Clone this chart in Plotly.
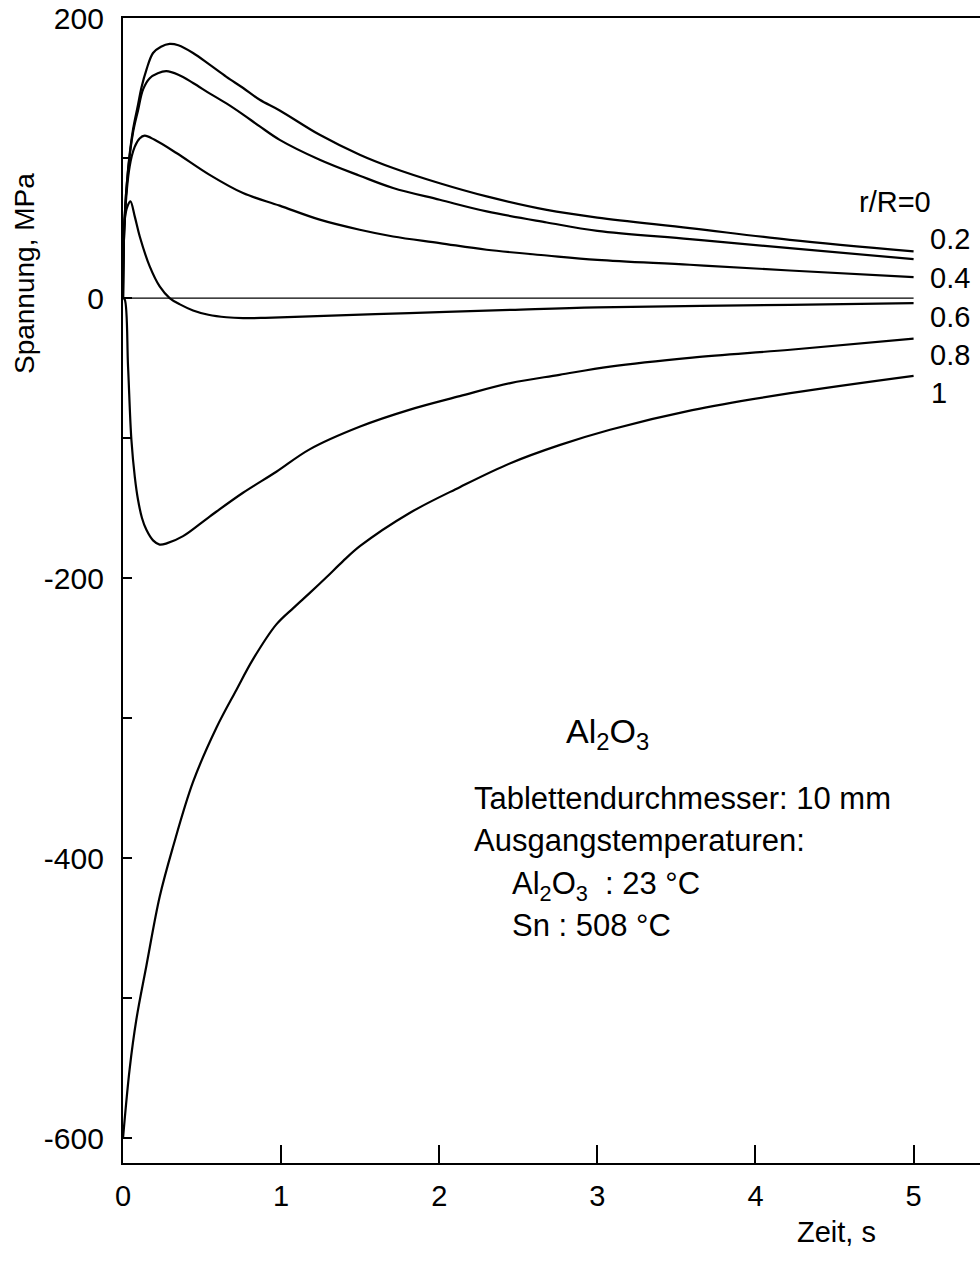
import plotly.graph_objects as go

# ---- data (time in s, stress in MPa) ----
t_r00 = [0, 0.01, 0.032, 0.063, 0.095, 0.116, 0.148, 0.19, 0.24, 0.295, 0.35, 0.443, 0.55, 0.654, 0.76, 0.865, 0.991, 1.244, 1.497, 1.708, 2.003, 2.3, 2.68, 3.0, 3.585, 4.217, 5.0]
s_r00 = [0, 56, 92, 120, 138, 150, 163, 175, 179.5, 181.5, 180.5, 175, 166.5, 158, 150, 141.6, 134, 116.6, 102.4, 92.9, 82, 72.6, 63, 57.5, 50, 41.6, 33.3]

t_r02 = [0, 0.01, 0.032, 0.063, 0.095, 0.127, 0.169, 0.22, 0.274, 0.35, 0.443, 0.55, 0.654, 0.76, 0.865, 0.991, 1.244, 1.497, 1.708, 2.003, 2.3, 2.68, 3.0, 3.585, 4.217, 5.0]
s_r02 = [0, 56, 91, 118, 134, 149, 157, 160.5, 162, 159.5, 153.6, 146, 139, 131, 122.6, 113, 98.8, 87.4, 78.6, 70.2, 61.9, 54, 48, 42.1, 35.7, 27.8]

t_r04 = [0, 0.011, 0.042, 0.074, 0.105, 0.137, 0.2, 0.338, 0.548, 0.759, 0.991, 1.244, 1.497, 1.708, 2.003, 2.3, 2.68, 3.0, 3.585, 4.217, 5.0]
s_r04 = [0, 56, 94, 108, 114, 116, 113, 103.6, 88, 75, 66, 56, 48.8, 44, 39.3, 34.5, 30.4, 27.3, 23.8, 19.7, 15]

t_r06 = [0, 0.011, 0.03, 0.047, 0.075, 0.106, 0.169, 0.232, 0.295, 0.36, 0.443, 0.54, 0.654, 0.76, 0.9, 1.18, 1.81, 2.45, 3.0, 4.22, 5.0]
s_r06 = [0, 56, 66, 69, 58, 44, 22.6, 8.3, 0, -4.5, -8.8, -11.9, -13.7, -14.3, -14.1, -13.1, -10.7, -8.4, -6.6, -4.8, -3.6]

t_r08 = [0, 0.011, 0.032, 0.053, 0.075, 0.095, 0.12, 0.148, 0.19, 0.232, 0.28, 0.38, 0.548, 0.759, 0.97, 1.18, 1.5, 1.81, 2.13, 2.45, 2.76, 3.08, 3.6, 4.22, 5.0]
s_r08 = [0, -1, -49, -101, -128, -144, -157, -165.5, -173, -176, -175, -170, -156, -139, -124, -108, -91.7, -79.8, -70, -60.7, -54.8, -48.9, -42.5, -36.9, -29]

t_r10 = [0, 0.042, 0.085, 0.148, 0.232, 0.316, 0.443, 0.59, 0.717, 0.822, 0.97, 1.08, 1.18, 1.29, 1.39, 1.5, 1.81, 2.13, 2.45, 2.76, 3.08, 3.6, 4.22, 5.0]
s_r10 = [-600, -550.5, -514.8, -476.7, -427.5, -392, -345.5, -307, -279.8, -258, -233, -221, -210.7, -199, -188, -177, -153.6, -135, -117.9, -105, -94, -80, -67.9, -55.5]

t_zero = [0, 5]
s_zero = [0, 0]

curve_labels = ["r/R=0", "0.2", "0.4", "0.6", "0.8", "1"]
x_ticks = [0, 1, 2, 3, 4, 5]
y_ticks = [-600, -500, -400, -300, -200, -100, 0, 100, 200]
y_ticktext = ["-600", "", "-400", "", "-200", "", "0", "", "200"]

FONT = "Liberation Sans, Arial, Helvetica, sans-serif"

fig = go.Figure()
fig.add_trace(go.Scatter(x=t_zero, y=s_zero, mode="lines",
                         line=dict(color="black", width=1.2), hoverinfo="skip"))
for t, s in [(t_r00, s_r00), (t_r02, s_r02), (t_r04, s_r04),
             (t_r06, s_r06), (t_r08, s_r08), (t_r10, s_r10)]:
    fig.add_trace(go.Scatter(x=t, y=s, mode="lines",
                             line=dict(color="black", width=2.2, shape="spline", smoothing=1.0)))

# curve labels at the right end
lab_pos = [(4.64, 68.8), (5.09, 42.4), (5.09, 14.5), (5.09, -13.4), (5.09, -40.5), (5.10, -67.6)]
for txt, (lx, ly) in zip(curve_labels, lab_pos):
    fig.add_annotation(x=lx, y=ly, text=txt, showarrow=False, xanchor="left", yanchor="middle",
                       font=dict(family=FONT, size=29, color="black"))

# material title and notes
fig.add_annotation(x=3.066, y=-311, text="Al<sub>2</sub>O<sub>3</sub>", showarrow=False,
                   xanchor="center", yanchor="middle", font=dict(family=FONT, size=34, color="black"))
notes = [
    (2.207, -357.0, "Tablettendurchmesser: 10 mm"),
    (2.207, -387.0, "Ausgangstemperaturen:"),
    (2.446, -419.5, "Al<sub>2</sub>O<sub>3</sub>  : 23 °C"),
    (2.446, -448.0, "Sn : 508 °C"),
]
for nx, ny, txt in notes:
    fig.add_annotation(x=nx, y=ny, text=txt, showarrow=False, xanchor="left", yanchor="middle",
                       font=dict(family=FONT, size=31, color="black"))

# axis titles
fig.add_annotation(xref="paper", yref="paper", x=-0.1155, y=0.7764, text="Spannung, MPa",
                   textangle=-90, showarrow=False, xanchor="center", yanchor="middle",
                   font=dict(family=FONT, size=28, color="black"))
fig.add_annotation(xref="paper", yref="paper", x=0.832, y=-0.060, text="Zeit, s",
                   showarrow=False, xanchor="center", yanchor="middle",
                   font=dict(family=FONT, size=29, color="black"))

fig.update_layout(
    width=980, height=1267,
    margin=dict(l=123, r=0, t=18, b=104),
    paper_bgcolor="white", plot_bgcolor="white",
    showlegend=False,
    font=dict(family=FONT, size=29, color="black"),
)
fig.update_xaxes(range=[0, 5.42], showline=True, linecolor="black", linewidth=2.2, mirror=True,
                 ticks="inside", ticklen=18, tickwidth=2, tickcolor="black",
                 tickvals=x_ticks, ticktext=[str(v) for v in x_ticks],
                 showgrid=False, zeroline=False, ticklabelstandoff=6,
                 tickfont=dict(family=FONT, size=29, color="black"))
fig.update_yaxes(range=[-617.6, 200], showline=True, linecolor="black", linewidth=2.2,
                 ticks="inside", ticklen=9, tickwidth=2, tickcolor="black",
                 tickvals=y_ticks, ticktext=y_ticktext,
                 showgrid=False, zeroline=False, ticklabelstandoff=11,
                 tickfont=dict(family=FONT, size=30, color="black"))

fig.write_html("out.html")
